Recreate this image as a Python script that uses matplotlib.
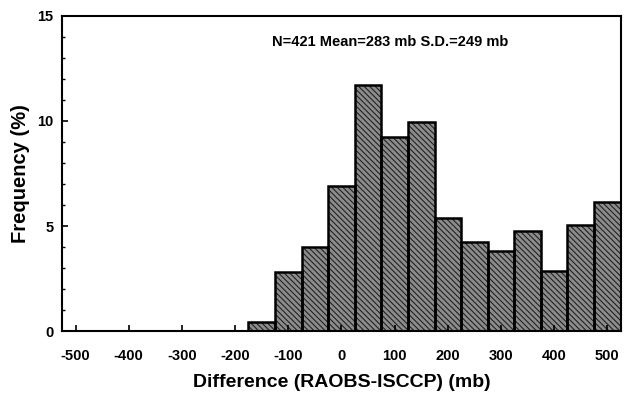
import matplotlib
matplotlib.use("Agg")
import matplotlib.pyplot as plt
from matplotlib.ticker import MultipleLocator

plt.rcParams['font.family'] = ['Liberation Sans', 'DejaVu Sans']
plt.rcParams['font.weight'] = 'bold'
plt.rcParams['axes.unicode_minus'] = False
plt.rcParams['hatch.linewidth'] = 0.8

# bin centres (mb) and frequency (%)
bin_centers = [-150, -100, -50, 0, 50, 100, 150, 200, 250, 300, 350, 400, 450, 500]
frequency = [0.45, 2.8, 4.0, 6.9, 11.7, 9.25, 9.95, 5.4, 4.25, 3.8, 4.75, 2.85, 5.05, 6.15]
bin_width = 50
xticks = [-500, -400, -300, -200, -100, 0, 100, 200, 300, 400, 500]
stats_text = "N=421 Mean=283 mb S.D.=249 mb"

fig = plt.figure(figsize=(6.3, 3.98), dpi=100)
ax = fig.add_axes([0.098, 0.168, 0.888, 0.792])

ax.bar(bin_centers, frequency, width=bin_width, color='#8c8c8c',
       edgecolor='#222222', hatch='\\\\\\\\\\\\', linewidth=0)
ax.bar(bin_centers, frequency, width=bin_width, fill=False,
       edgecolor='black', linewidth=1.8)

ax.set_xlim(-526, 526)
ax.set_ylim(0, 15)
ax.set_xticks(xticks)
ax.set_yticks([0, 5, 10, 15])
ax.yaxis.set_minor_locator(MultipleLocator(1))
ax.tick_params(direction='in', length=4, width=1.2, labelsize=10.5, pad=13, axis='x')
ax.tick_params(direction='in', length=4, width=1.2, labelsize=10.5, pad=6, axis='y', which='major')
ax.tick_params(direction='in', length=2.5, width=1, axis='y', which='minor')
for lab in ax.get_xticklabels() + ax.get_yticklabels():
    lab.set_fontweight('bold')
for s in ax.spines.values():
    s.set_linewidth(1.5)

ax.set_xlabel("Difference (RAOBS-ISCCP) (mb)", fontsize=14, fontweight='bold', labelpad=8)
ax.set_ylabel("Frequency (%)", fontsize=14.5, fontweight='bold', labelpad=5)
ax.text(0.376, 0.917, stats_text, transform=ax.transAxes, fontsize=10.5,
        fontweight='bold', ha='left', va='center')

fig.savefig("out.png", dpi=100)
